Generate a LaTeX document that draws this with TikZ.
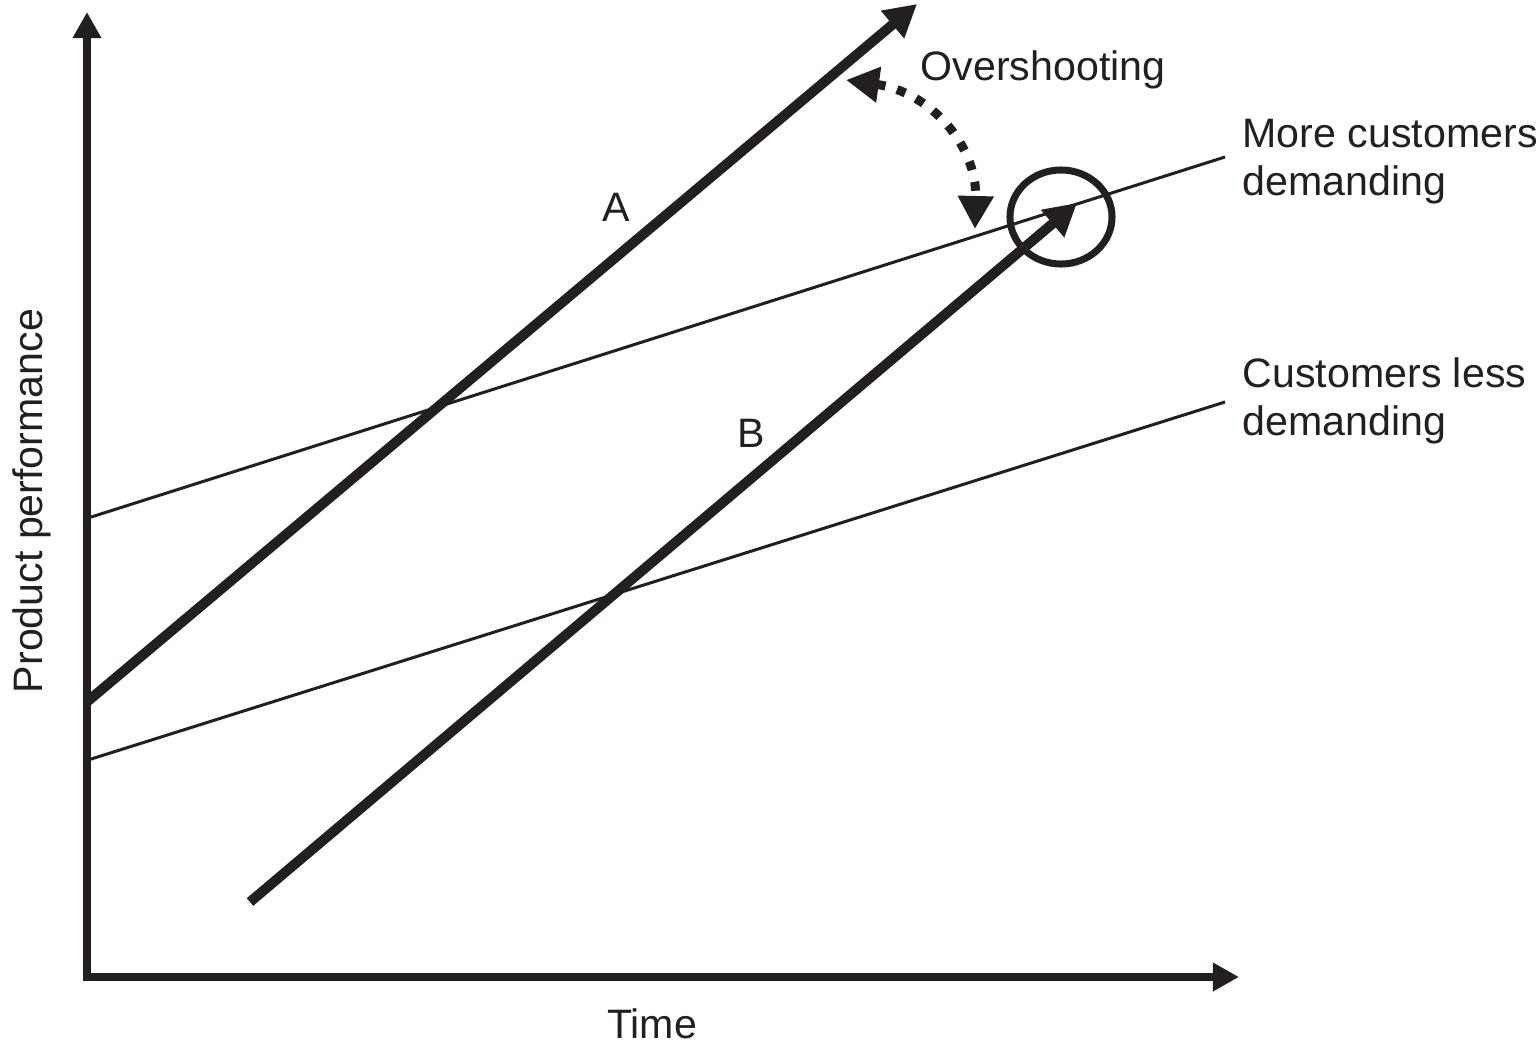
\documentclass[tikz,border=0pt]{standalone}
\usepackage{fontspec}
\setmainfont{Liberation Sans}
\usetikzlibrary{arrows.meta,shapes.geometric}
\definecolor{ink}{HTML}{231F20}
\begin{document}
\begin{tikzpicture}[x=0.01cm,y=-0.01cm,
  axis/.style={draw=ink,line width=0.08cm,-{Triangle[length=0.26cm,width=0.27cm]}},
  trend/.style={draw=ink,line width=0.10cm,-{Triangle[length=0.32cm,width=0.34cm]}},
  demand/.style={draw=ink,line width=0.03cm},
  lbl/.style={text=ink,font=\fontsize{11.7}{13.66}\selectfont,inner sep=0pt},
  over/.style={draw=ink,line width=0.09cm,dash pattern=on 0.09cm off 0.12cm,
    {Triangle[length=0.33cm,width=0.34cm]}-{Triangle[length=0.33cm,width=0.34cm]}},
  ring/.style={draw=ink,line width=0.07cm,ellipse,inner sep=0pt,
    minimum width=1.02cm,minimum height=0.94cm}]
\useasboundingbox (0,0) rectangle (1538,1048);
% coordinates
\coordinate (Ybot) at (87,981);
\coordinate (Ytip) at (87,12);
\coordinate (Xbeg) at (83,977);
\coordinate (Xtip) at (1239,977);
\coordinate (A0) at (88,701);
\coordinate (A1) at (917,4);
\coordinate (B0) at (250,902);
\coordinate (B1) at (1077,203);
\coordinate (M0) at (88,518);
\coordinate (M1) at (1225,157);
\coordinate (L0) at (88,760);
\coordinate (L1) at (1225,402);
\coordinate (S) at (846,80);
\coordinate (E) at (975,229);
% demand lines
\draw[demand] (M0) -- (M1);
\draw[demand] (L0) -- (L1);
% trajectories
\draw[trend] (A0) -- (A1);
\draw[trend] (B0) -- (B1);
% axes
\draw[axis] (Ybot) -- (Ytip);
\draw[axis] (Xbeg) -- (Xtip);
% circle
\node[ring] (ring) at (1061,217) {};
% overshooting arrow
\draw[over] (S) .. controls (930,92) and (977,145) .. (E);
% labels
\node[lbl,anchor=base west] (over) at (920,80) {Overshooting};
\node[lbl,anchor=base west] (more1) at (1242,147) {More customers};
\node[lbl,anchor=base west] (more2) at (1242,195) {demanding};
\node[lbl,anchor=base west] (less1) at (1242,387) {Customers less};
\node[lbl,anchor=base west] (less2) at (1242,435) {demanding};
\node[lbl,anchor=base] (la) at (616,221) {A};
\node[lbl,anchor=base] (lb) at (751,447) {B};
\node[lbl,anchor=base] (time) at (652,1038) {Time};
\node[lbl,anchor=base,rotate=90] (perf) at (43,501) {Product performance};
\end{tikzpicture}
\end{document}
